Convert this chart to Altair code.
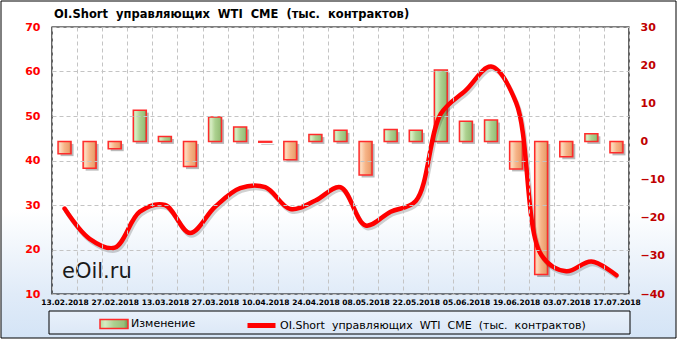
import json
import altair as alt
import pandas as pd

# ---------------- data ----------------
dates = ["13.02.2018", "20.02.2018", "27.02.2018", "06.03.2018", "13.03.2018",
         "20.03.2018", "27.03.2018", "03.04.2018", "10.04.2018", "17.04.2018",
         "24.04.2018", "01.05.2018", "08.05.2018", "15.05.2018", "22.05.2018",
         "29.05.2018", "05.06.2018", "12.06.2018", "19.06.2018", "26.06.2018",
         "03.07.2018", "10.07.2018", "17.07.2018"]
oi_short = [29.2, 22.4, 20.4, 28.5, 30.0, 23.7, 29.6, 33.8, 34.0, 29.1,
            31.0, 34.0, 25.4, 28.5, 30.9, 50.5, 55.8, 61.1, 53.0, 18.8,
            15.1, 17.3, 14.2]
change = [-3.2, -7.0, -1.9, 8.2, 1.3, -6.6, 6.4, 3.8, -0.2, -4.8,
          1.8, 2.9, -8.8, 3.1, 2.9, 18.7, 5.3, 5.6, -7.2, -34.9,
          -4.0, 2.0, -3.0]
shown_labels = dates[::2]
left_ticks = [10, 20, 30, 40, 50, 60, 70]
right_ticks = [-40, -30, -20, -10, 0, 10, 20, 30]

title_text = "OI.Short \u00a0управляющих \u00a0WTI \u00a0CME \u00a0(тыс. \u00a0контрактов)"
bar_name = "Изменение"
line_name = "OI.Short \u00a0управляющих \u00a0WTI \u00a0CME \u00a0(тыс. \u00a0контрактов)"
watermark = "eOil.ru"

df = pd.DataFrame({"date": dates, "oi": oi_short, "chg": change,
                   "bar_series": [bar_name] * len(dates),
                   "line_series": [line_name] * len(dates)})
one = pd.DataFrame({"k": [0]})

W, H = 577, 267
FONT = "DejaVu Sans"


def vgrad(stops):
    return {"gradient": "linear", "x1": 0, "y1": 0, "x2": 0, "y2": 1,
            "stops": [{"offset": o, "color": c} for o, c in stops]}


def hgrad(stops):
    return {"gradient": "linear", "x1": 0, "y1": 0, "x2": 1, "y2": 0,
            "stops": [{"offset": o, "color": c} for o, c in stops]}


green_fill = hgrad([(0, "#b7da9b"), (0.18, "#d6edc3"), (0.5, "#acd18f"),
                    (0.85, "#98c07a"), (1, "#6a924d")])
orange_fill = hgrad([(0, "#f7c29b"), (0.18, "#fcd8bb"), (0.5, "#f6b487"),
                     (0.85, "#ec9f6e"), (1, "#b8703f")])
bg_fill = vgrad([(0, "#ffffff"), (0.62, "#ffffff"), (0.87, "#e0ebf8"),
                 (1, "#d4e4f6")])
box_fill = vgrad([(0, "#e9f1fb"), (1, "#dce8f7")])

label_expr = ("indexof(" + json.dumps(shown_labels) +
              ", datum.value) >= 0 ? datum.label : ''")

x_enc = alt.X(
    "date:N", sort=dates,
    scale=alt.Scale(type="band", paddingInner=0, paddingOuter=0),
    axis=alt.Axis(title=None, labelAngle=0, labelExpr=label_expr,
                  labelOverlap=False, tickBand="extent", grid=True,
                  ticks=False, domain=False, gridColor="#c4c4c4",
                  gridDash=[4, 3], labelFont=FONT, labelFontWeight="bold",
                  labelFontSize=7.5, labelColor="black", labelPadding=4,
                  zindex=1),
)

y_bar = alt.Y(
    "chg:Q", scale=alt.Scale(domain=[-40, 30], nice=False),
    axis=alt.Axis(orient="right", title=None, values=right_ticks, grid=False,
                  ticks=False, domain=False, labelColor="#c00000",
                  labelFont=FONT, labelFontWeight="bold", labelFontSize=11,
                  labelPadding=11, labelFlush=False, zindex=1),
)

y_line = alt.Y(
    "oi:Q", scale=alt.Scale(domain=[10, 70], nice=False, zero=False),
    axis=alt.Axis(orient="left", title=None, values=left_ticks, grid=True,
                  gridColor="#c4c4c4", gridDash=[4, 3], ticks=False,
                  domain=False, labelColor="#ff0000", labelFont=FONT,
                  labelFontWeight="bold", labelFontSize=11, labelPadding=12,
                  labelFlush=False, zindex=1),
)

# -------- decoration (background, legend box, frames, title) --------
background = alt.Chart(one).mark_rect(
    fill=bg_fill, stroke="black", strokeWidth=1).encode(
    x=alt.value(-51), x2=alt.value(624), y=alt.value(-26), y2=alt.value(311))
legend_box = alt.Chart(one).mark_rect(
    fill=box_fill, stroke="black", strokeWidth=1).encode(
    x=alt.value(-3), x2=alt.value(578), y=alt.value(284), y2=alt.value(307))
plot_frame = alt.Chart(one).mark_rect(
    fillOpacity=0, stroke="black", strokeWidth=1.2).encode(
    x=alt.value(0), x2=alt.value(W), y=alt.value(0), y2=alt.value(H))
title_mark = alt.Chart(one).mark_text(
    text=title_text, font=FONT, fontSize=11.5, fontWeight="bold",
    color="black", align="left", baseline="alphabetic").encode(
    x=alt.value(2), y=alt.value(-9.5))

# ---------------- bars ----------------
bar_stroke = alt.Stroke(
    "bar_series:N",
    scale=alt.Scale(domain=[bar_name], range=["#ff2b2b"]),
    legend=alt.Legend(
        title=None, orient="none", legendX=47, legendY=282, padding=0,
        symbolType="M-1,-0.32H1V0.32H-1Z", symbolSize=784,
        symbolStrokeWidth=1.5, symbolFillColor="#98c07a",
        symbolStrokeColor="#ff2b2b", symbolOpacity=1,
        labelFont=FONT, labelFontSize=11,
        labelColor="black", labelOffset=2,
    ),
)

base = alt.Chart(df)
bar_shadow = base.mark_bar(size=13, fill="#3a3a3a", opacity=0.35,
                           xOffset=2.5, yOffset=2.5).encode(x=x_enc, y=y_bar)
bars_pos = base.transform_filter("datum.chg >= 0").mark_bar(
    size=13, fill=green_fill, strokeWidth=1.5).encode(
    x=x_enc, y=y_bar, stroke=bar_stroke)
bars_neg = base.transform_filter("datum.chg < 0").mark_bar(
    size=13, fill=orange_fill, strokeWidth=1.5).encode(
    x=x_enc, y=y_bar, stroke=bar_stroke)
bars = alt.layer(bar_shadow, bars_pos, bars_neg)

# ---------------- line ----------------
line_color = alt.Color(
    "line_series:N",
    scale=alt.Scale(domain=[line_name], range=["#ff0000"]),
    legend=alt.Legend(
        title=None, orient="none", legendX=193, legendY=282, padding=0,
        symbolType="stroke", symbolSize=784, symbolStrokeWidth=5,
        labelFont=FONT, labelFontSize=11, labelColor="black", labelOffset=2,
        labelLimit=400),
)
line_shadow = base.mark_line(color="#000000", opacity=0.18, strokeWidth=4.5,
                             interpolate="catmull-rom", xOffset=1.5,
                             yOffset=2.5).encode(x=x_enc, y=y_line)
line = base.mark_line(strokeWidth=4.5, interpolate="catmull-rom",
                      strokeCap="round").encode(x=x_enc, y=y_line,
                                                color=line_color)
lines = alt.layer(line_shadow, line)

mark_wm = alt.Chart(one).mark_text(
    text=watermark, font=FONT, fontSize=21, color="#1a1a1a",
    align="left", baseline="alphabetic").encode(
    x=alt.value(10), y=alt.value(251))

chart = alt.layer(
    background, legend_box, title_mark, bars, mark_wm, lines, plot_frame,
).resolve_scale(y="independent").properties(
    width=W, height=H,
    padding={"left": 52, "top": 27, "right": 51, "bottom": 46},
    autosize=alt.AutoSizeParams(type="none"),
    background="white",
).configure_view(stroke=None)

chart.save("out.html", embed_options={"renderer": "svg", "actions": False})
